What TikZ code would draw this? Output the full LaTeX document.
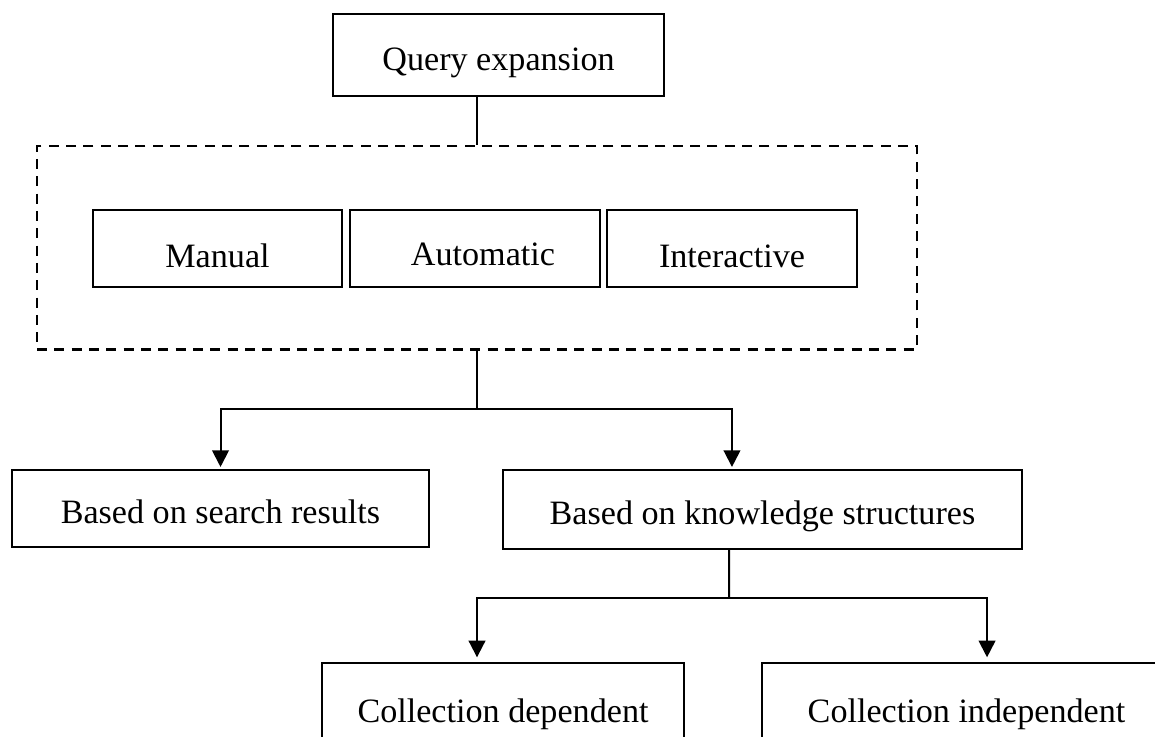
\documentclass[tikz,border=0pt]{standalone}
\usepackage{fontspec}
\setmainfont{Liberation Serif}
\usetikzlibrary{arrows.meta}

\tikzset{every picture/.style={line width=1.5pt}}
\tikzset{
  qebox/.style={draw, rectangle, inner sep=0pt, text height=22.5pt, text depth=0pt,
    font=\fontsize{25.6pt}{30pt}\selectfont},
  kindbox/.style={qebox, minimum width=187.5pt, minimum height=57.8pt, text height=28pt},
  groupbox/.style={draw, rectangle, inner sep=0pt, line width=2.2pt, dash pattern=on 7.5pt off 5.5pt},
  branch/.style={-{Triangle[length=12.5pt,width=12.5pt]}}
}

\begin{document}
\begin{tikzpicture}[x=0.75pt,y=0.75pt,yscale=-1,xscale=1]
\clip (0,0) rectangle (1155,736);

% root
\node (query) [qebox, minimum width=248.3pt, minimum height=61.5pt] at (498.5,55) {Query expansion};

% dashed group with the three kinds
\node (kinds) [groupbox, minimum width=660pt, minimum height=152.3pt] at (477,247.5) {};
\node (manual) [kindbox, minimum width=186.8pt] at (217.5,248.5) {Manual};
\node (automatic) [kindbox, text height=26pt] at (475,248.5) {\hspace{12pt}Automatic};
\node (interactive) [kindbox] at (732,248.5) {Interactive};

% second level
\node (search) [qebox, minimum width=312.8pt, minimum height=57.8pt] at (220.5,508.5) {Based on search results};
\node (knowledge) [qebox, minimum width=389.3pt, minimum height=59.3pt] at (762.5,509.5) {Based on knowledge structures};

% third level
\node (dependent) [qebox, minimum width=271.5pt, minimum height=66.8pt] at (503,707.5) {Collection dependent};
\node (independent) [qebox, minimum width=306.8pt, minimum height=66.8pt] at (966.5,707.5) {Collection independent};

\coordinate (split1) at (477,409);
\coordinate (split2) at (729,598);

\draw (query.south -| kinds.north) -- (kinds.north);
\draw (kinds.south) -- (split1);
\draw [branch, shorten >=1.5pt] (split1) -| (search.north);
\draw [branch, shorten >=1.5pt] (split1) -| ([xshift=-22.9pt]knowledge.north);

\draw ([xshift=-25.1pt]knowledge.south) -- (split2);
\draw [branch, shorten >=3.5pt] (split2) -| ([xshift=-19.5pt]dependent.north);
\draw [branch, shorten >=3.5pt] (split2) -| ([xshift=15.4pt]independent.north);

\end{tikzpicture}
\end{document}
